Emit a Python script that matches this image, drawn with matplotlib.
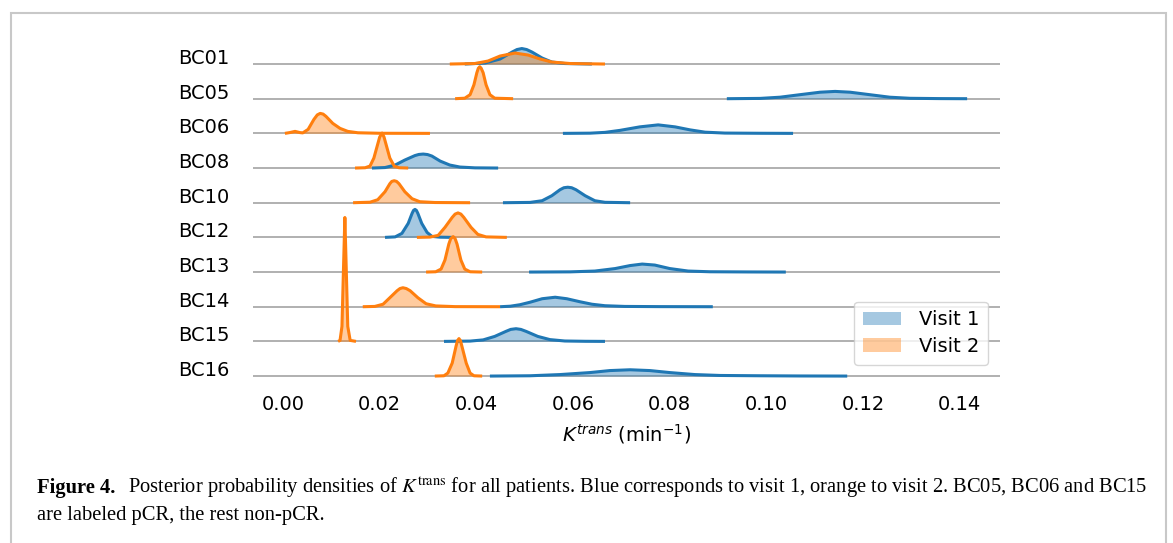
import matplotlib
matplotlib.use('Agg')
import matplotlib.pyplot as plt
from matplotlib.patches import Rectangle
from matplotlib.transforms import blended_transform_factory

# patients, top to bottom
patients = ['BC01', 'BC05', 'BC06', 'BC08', 'BC10', 'BC12', 'BC13', 'BC14', 'BC15', 'BC16']

# visit 1 (blue): K^trans points (min^-1) and posterior density (arbitrary units)
v1_k = [
    [0.0376, 0.0418, 0.0449, 0.0474, 0.0484, 0.0494, 0.0504, 0.0515, 0.0536, 0.0556, 0.0583, 0.0639],
    [0.0918, 0.0987, 0.1028, 0.1069, 0.1111, 0.1142, 0.1173, 0.1214, 0.1255, 0.1297, 0.1359, 0.1415],
    [0.0579, 0.0635, 0.0666, 0.0697, 0.0738, 0.0776, 0.0811, 0.0842, 0.0873, 0.0914, 0.0987, 0.1055],
    [0.0184, 0.0211, 0.0232, 0.0252, 0.0273, 0.0281, 0.0290, 0.0299, 0.0308, 0.0325, 0.0345, 0.0366, 0.0397, 0.0445],
    [0.0455, 0.0511, 0.0536, 0.0556, 0.0573, 0.0581, 0.0589, 0.0597, 0.0606, 0.0625, 0.0645, 0.0666, 0.0718],
    [0.0211, 0.0232, 0.0246, 0.0259, 0.0267, 0.0270, 0.0273, 0.0276, 0.0279, 0.0287, 0.0298, 0.0308, 0.0325, 0.0350],
    [0.0509, 0.0594, 0.0645, 0.0687, 0.0718, 0.0743, 0.0769, 0.0800, 0.0838, 0.0883, 0.0966, 0.1040],
    [0.0449, 0.0470, 0.0490, 0.0511, 0.0536, 0.0563, 0.0587, 0.0614, 0.0639, 0.0666, 0.0707, 0.0780, 0.0889],
    [0.0333, 0.0387, 0.0414, 0.0438, 0.0461, 0.0471, 0.0482, 0.0492, 0.0503, 0.0527, 0.0552, 0.0583, 0.0625, 0.0666],
    [0.0428, 0.0511, 0.0573, 0.0635, 0.0676, 0.0718, 0.0759, 0.0800, 0.0852, 0.0904, 0.0987, 0.1069, 0.1167],
]
v1_dens = [
    [0, 1, 5, 12, 14.5, 15.5, 14.5, 12, 6, 2, 0.5, 0],
    [0, 0.3, 1.5, 4, 6.5, 7.3, 6.5, 4, 1.5, 0.4, 0.1, 0],
    [0, 0.2, 1, 3, 6.5, 8.5, 6.5, 3.5, 1.2, 0.3, 0.1, 0],
    [0, 0.5, 3, 8, 12.5, 13.6, 14, 13.5, 12, 7, 3, 1, 0.2, 0],
    [0, 0.3, 2, 7, 13, 15, 15.5, 15, 13, 7, 2, 0.4, 0],
    [0, 0.5, 4, 14, 24, 27, 28, 27, 24, 14, 5, 1, 0.2, 0],
    [0, 0.2, 1, 3.5, 6.5, 8, 7, 3.5, 1, 0.3, 0.1, 0],
    [0, 0.5, 2, 4.5, 8, 9.5, 8, 5, 2.5, 1, 0.3, 0.1, 0],
    [0, 0.3, 1.5, 5, 10, 12, 12.7, 12, 10, 5, 1.8, 0.4, 0.1, 0],
    [0, 0.3, 1.5, 3.5, 5.5, 6.3, 5.5, 3.5, 1.5, 0.6, 0.3, 0.1, 0],
]

# visit 2 (orange)
v2_k = [
    [0.0345, 0.0397, 0.0424, 0.0449, 0.0480, 0.0507, 0.0532, 0.0556, 0.0594, 0.0666],
    [0.0356, 0.0376, 0.0387, 0.0395, 0.0401, 0.0404, 0.0407, 0.0410, 0.0414, 0.0420, 0.0428, 0.0438, 0.0476],
    [0.0004, 0.0014, 0.0025, 0.0035, 0.0041, 0.0052, 0.0064, 0.0071, 0.0077, 0.0083, 0.0089, 0.0103, 0.0118,
     0.0134, 0.0155, 0.0201, 0.0304],
    [0.0149, 0.0170, 0.0180, 0.0188, 0.0196, 0.0200, 0.0205, 0.0209, 0.0213, 0.0221, 0.0230, 0.0240, 0.0259],
    [0.0145, 0.0180, 0.0196, 0.0211, 0.0221, 0.0225, 0.0230, 0.0235, 0.0240, 0.0252, 0.0267, 0.0283, 0.0314, 0.0387],
    [0.0277, 0.0304, 0.0321, 0.0335, 0.0350, 0.0356, 0.0362, 0.0368, 0.0374, 0.0389, 0.0403, 0.0420, 0.0463],
    [0.0296, 0.0316, 0.0327, 0.0335, 0.0343, 0.0347, 0.0352, 0.0356, 0.0360, 0.0368, 0.0376, 0.0387, 0.0412],
    [0.0165, 0.0190, 0.0207, 0.0221, 0.0236, 0.0242, 0.0248, 0.0255, 0.0263, 0.0279, 0.0296, 0.0316, 0.0356, 0.0449],
    [0.0114, 0.0118, 0.0122, 0.0125, 0.0128, 0.0131, 0.0134, 0.0139, 0.0151],
    [0.0314, 0.0333, 0.0341, 0.0350, 0.0358, 0.0361, 0.0364, 0.0367, 0.0370, 0.0379, 0.0387, 0.0395, 0.0412],
]
v2_dens = [
    [0, 0.5, 3, 8, 11, 9, 5, 2, 0.5, 0],
    [0, 0.5, 4, 14, 26, 30.4, 32, 30.4, 26, 14, 4, 0.5, 0],
    [0, 0.8, 2, 0.8, 0.5, 4, 14, 18.5, 20, 19.3, 17, 10, 5, 2, 0.6, 0.1, 0],
    [0, 0.3, 2, 10, 24, 31, 35, 31, 24, 10, 2, 0.3, 0],
    [0, 0.5, 3, 11, 19, 21.3, 22, 21.3, 19, 11, 4, 1, 0.2, 0],
    [0, 0.3, 2, 10, 20, 23.3, 24.5, 23.3, 20, 10, 3, 0.5, 0],
    [0, 0.3, 3, 12, 28, 33.5, 35.5, 33.5, 28, 12, 3, 0.3, 0],
    [0, 0.3, 2.5, 9, 16, 18.2, 19, 18.2, 16, 9, 3, 0.8, 0.1, 0],
    [0, 1, 15, 70, 124, 70, 15, 1, 0],
    [0, 0.3, 3, 13, 30, 35.5, 37.5, 35.5, 30, 13, 3, 0.3, 0],
]

x_ticks = [0.00, 0.02, 0.04, 0.06, 0.08, 0.10, 0.12, 0.14]

blue = '#1f77b4'
orange = '#ff7f0e'
scale = 1 / 34.7   # density units -> row spacing
fs = 14

fig = plt.figure(figsize=(11.73, 5.43), dpi=100)
ax = fig.add_axes([253 / 1173, 1 - 383 / 543, 747 / 1173, 363 / 543])
trans = blended_transform_factory(ax.transAxes, ax.transData)

n = len(patients)
for i, name in enumerate(patients):
    base = n - 1 - i
    ax.axhline(base, color='#aaaaaa', lw=1.3, zorder=1)
    for ks, ds, col in ((v1_k[i], v1_dens[i], blue), (v2_k[i], v2_dens[i], orange)):
        y = [base + d * scale for d in ds]
        ax.fill_between(ks, base, y, color=col, alpha=0.4, lw=0, zorder=2)
        ax.plot(ks, y, color=col, lw=2.2, solid_capstyle='butt', solid_joinstyle='round', zorder=3)
    ax.text(-0.031, base, name, transform=trans, ha='right', va='baseline', fontsize=fs)

ax.set_xlim(-0.0062, 0.1483)
ax.set_ylim(-0.2, 10.27)
ax.set_xticks(x_ticks)
ax.set_xticklabels(['%.2f' % t for t in x_ticks])
ax.set_yticks([])
ax.tick_params(axis='x', length=0, pad=8.5, labelsize=fs)
for s in ax.spines.values():
    s.set_visible(False)
ax.set_xlabel(r'$K^{trans}$ (min$^{-1}$)', fontsize=fs, labelpad=6)

h1 = plt.Rectangle((0, 0), 1, 1, color=blue, alpha=0.4, lw=0)
h2 = plt.Rectangle((0, 0), 1, 1, color=orange, alpha=0.4, lw=0)
leg = ax.legend([h1, h2], ['Visit 1', 'Visit 2'], loc='lower right',
                bbox_to_anchor=(0.984, 0.05), borderaxespad=0, fontsize=fs,
                handlelength=2.0, handletextpad=0.9, borderpad=0.45, labelspacing=0.4)
leg.get_frame().set_edgecolor('#cccccc')

# caption below the chart
cap = dict(family='Liberation Serif', fontsize=14.8, va='baseline')
fig.text(37 / 1173, 1 - 493 / 543, 'Figure 4.', fontweight='bold', **cap)
fig.text(128 / 1173, 1 - 493 / 543,
         r'Posterior probability densities of $K^{\mathrm{trans}}$ for all patients. '
         'Blue corresponds to visit 1, orange to visit 2. BC05, BC06 and BC15',
         math_fontfamily='stix', **cap)
fig.text(37 / 1173, 1 - 520 / 543, 'are labeled pCR, the rest non-pCR.', **cap)

# page frame
fig.add_artist(Rectangle((11 / 1173, -0.05), 1155 / 1173, 1.05 - 13 / 543,
                         transform=fig.transFigure, fill=False, ec='#c8c8c8', lw=1.5,
                         clip_on=False))

fig.savefig('out.png', dpi=100)
